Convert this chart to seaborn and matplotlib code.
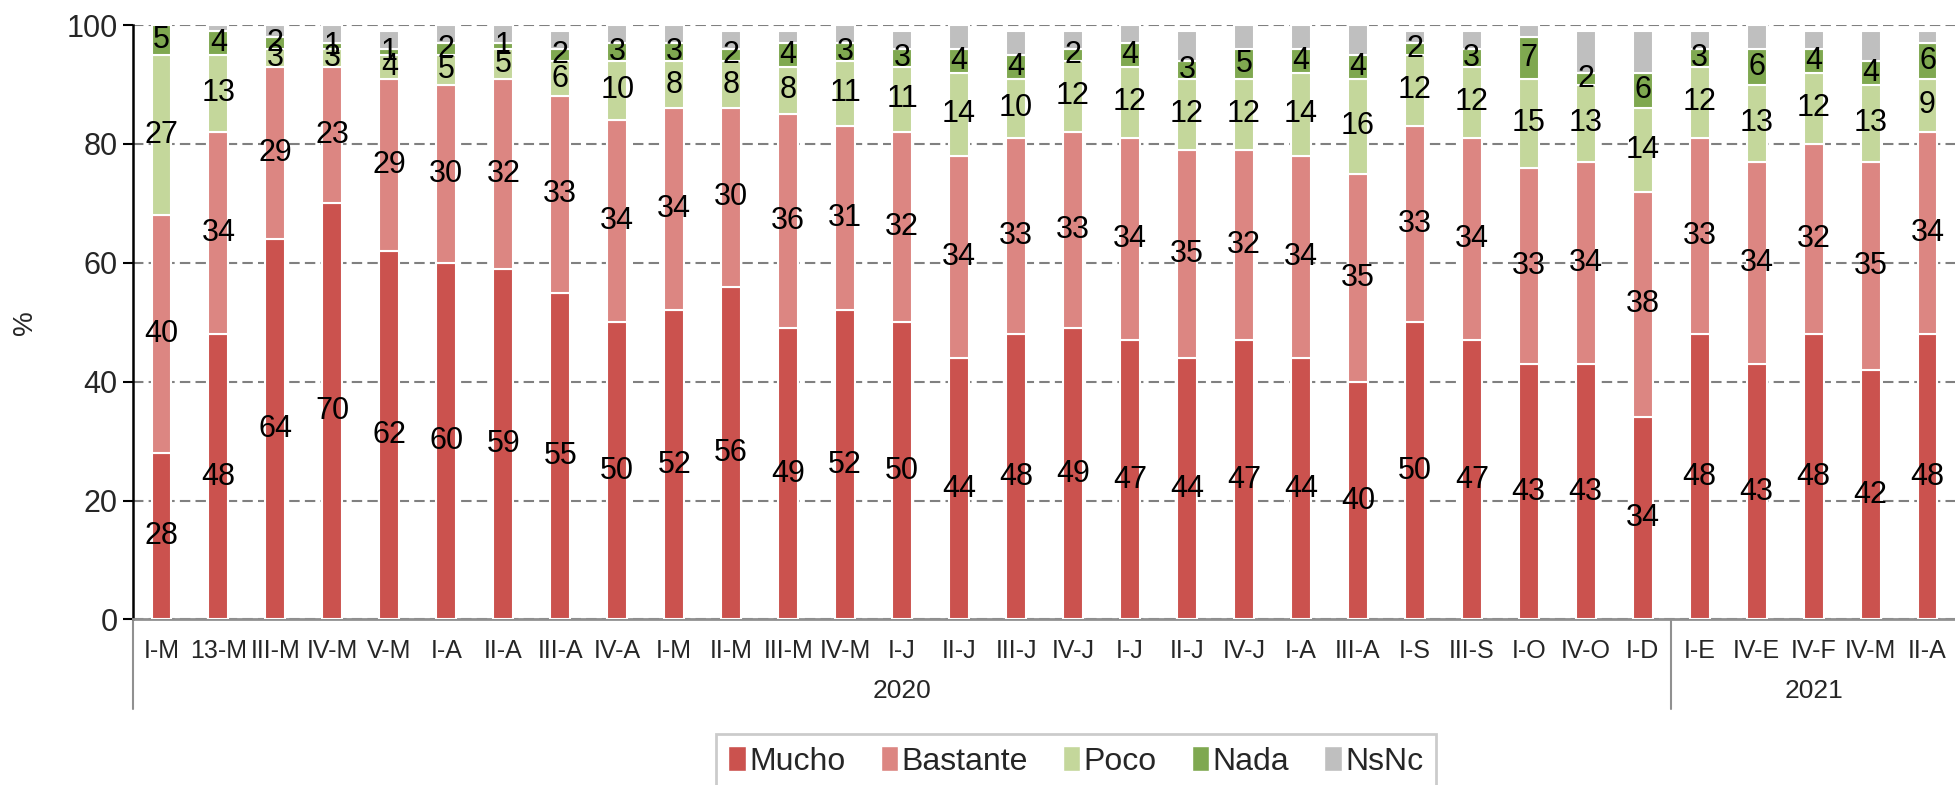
import numpy as np
import pandas as pd
import matplotlib
matplotlib.use("Agg")
import matplotlib.pyplot as plt
import matplotlib.transforms as mtransforms
from matplotlib.patches import Patch
import seaborn as sns

categories = ["I-M", "13-M", "III-M", "IV-M", "V-M", "I-A", "II-A", "III-A", "IV-A",
              "I-M", "II-M", "III-M", "IV-M", "I-J", "II-J", "III-J", "IV-J", "I-J",
              "II-J", "IV-J", "I-A", "III-A", "I-S", "III-S", "I-O", "IV-O", "I-D",
              "I-E", "IV-E", "IV-F", "IV-M", "II-A"]
years = ["2020", "2021"]
year_counts = [27, 5]

mucho = [28, 48, 64, 70, 62, 60, 59, 55, 50, 52, 56, 49, 52, 50, 44, 48, 49, 47,
         44, 47, 44, 40, 50, 47, 43, 43, 34, 48, 43, 48, 42, 48]
bastante = [40, 34, 29, 23, 29, 30, 32, 33, 34, 34, 30, 36, 31, 32, 34, 33, 33, 34,
            35, 32, 34, 35, 33, 34, 33, 34, 38, 33, 34, 32, 35, 34]
poco = [27, 13, 3, 3, 4, 5, 5, 6, 10, 8, 8, 8, 11, 11, 14, 10, 12, 12,
        12, 12, 14, 16, 12, 12, 15, 13, 14, 12, 13, 12, 13, 9]
nada = [5, 4, 2, 1, 1, 2, 1, 2, 3, 3, 2, 4, 3, 3, 4, 4, 2, 4,
        3, 5, 4, 4, 2, 3, 7, 2, 6, 3, 6, 4, 4, 6]
nsnc = [0, 1, 2, 3, 3, 3, 3, 3, 3, 3, 3, 2, 3, 3, 4, 4, 3, 3,
        5, 4, 4, 5, 2, 3, 2, 7, 7, 3, 4, 3, 5, 2]

series = ["Mucho", "Bastante", "Poco", "Nada", "NsNc"]
colors = ["#CB524E", "#DC8682", "#C4D79B", "#7FA850", "#BFBFBF"]
labelled = [True, True, True, True, False]

sns.set_style("white")
plt.rcParams["font.family"] = ["Liberation Sans", "DejaVu Sans"]

fig = plt.figure(figsize=(19.56, 7.85), dpi=100)
ax = fig.add_axes([0.068, 0.211, 0.932, 0.757])

pos = np.arange(len(categories))
values = [mucho, bastante, poco, nada, nsnc]
bottom = np.zeros(len(categories))
for name, vals, col, lab in zip(series, values, colors, labelled):
    vals = np.array(vals, dtype=float)
    sns.barplot(x=pos, y=vals, bottom=bottom, color=col, width=0.35, saturation=1,
                edgecolor="white", linewidth=1.5, errorbar=None, ax=ax, zorder=3)
    if lab:
        for i in range(len(vals)):
            ax.text(pos[i], bottom[i] + vals[i] / 2, f"{int(vals[i])}",
                    ha="center", va="center", fontsize=22, color="black", zorder=5)
    bottom = bottom + vals

ax.set_xlim(-0.5, len(categories) - 0.5)
ax.set_ylim(0, 100)
ax.set_yticks([0, 20, 40, 60, 80, 100])
ax.tick_params(axis="y", labelsize=22, length=7, width=1.5, color="black", direction="out", left=True, pad=4)
ax.yaxis.grid(True, color="#808080", linestyle=(0, (5, 2.5)), linewidth=1.5, zorder=0)
ax.set_ylabel("%", fontsize=20)
ax.yaxis.set_label_coords(-0.052, 0.5)

ax.set_xticks(pos)
ax.set_xticklabels(categories, fontsize=18)
ax.tick_params(axis="x", length=0, pad=14)
ax.set_xticks(np.arange(-0.5, len(categories)), minor=True)
ax.tick_params(axis="x", which="minor", length=32, width=1.5, color="#909090", direction="out")
ax.set_xlabel("")

for s in ["top", "right"]:
    ax.spines[s].set_visible(False)
ax.spines["left"].set_color("black")
ax.spines["left"].set_linewidth(1.8)
ax.spines["bottom"].set_color("#909090")
ax.spines["bottom"].set_linewidth(2)

trans = mtransforms.blended_transform_factory(ax.transData, ax.transAxes)
start = 0
for yr, n in zip(years, year_counts):
    ax.plot([start - 0.5, start - 0.5], [0, -0.15], color="#909090", lw=1.5,
            transform=trans, clip_on=False)
    ax.text(start + (n - 1) / 2, -0.12, yr, transform=trans, ha="center", va="center",
            fontsize=19)
    start += n

handles = [Patch(facecolor=c, edgecolor="white", label=s) for s, c in zip(series, colors)]
leg = fig.legend(handles=handles, loc="center", bbox_to_anchor=(0.55, 0.03), ncol=5,
                 fontsize=23, frameon=True, fancybox=False, edgecolor="#BFBFBF",
                 handlelength=0.55, handleheight=0.8, handletextpad=0.1,
                 columnspacing=1.1, borderpad=0.4)
leg.get_frame().set_linewidth(2)

fig.savefig("out.png", dpi=100)
